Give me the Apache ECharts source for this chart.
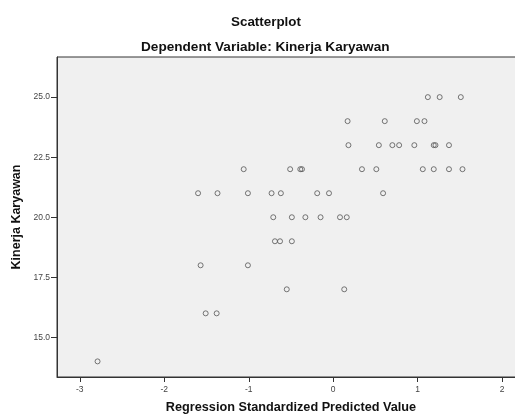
<!DOCTYPE html>
<html>
<head>
<meta charset="utf-8">
<script src="https://cdn.jsdelivr.net/npm/echarts@6/dist/echarts.min.js"></script>
<style>
html,body{margin:0;padding:0;background:#fff;}
#chart{width:515px;height:414px;}
</style>
</head>
<body>
<div id="chart"></div>
<script>
var predictedValues = [
  -2.79,
  -1.51, -1.38,
  -0.55, 0.13,
  -1.57, -1.01,
  -0.69, -0.63, -0.49,
  -0.71, -0.49, -0.33, -0.15, 0.08, 0.16,
  -1.60, -1.37, -1.01, -0.73, -0.62, -0.19, -0.05, 0.59,
  -1.06, -0.51, -0.39, -0.37, 0.34, 0.51, 1.06, 1.19, 1.37, 1.53,
  0.18, 0.54, 0.70, 0.78, 0.96, 1.19, 1.21, 1.37,
  0.17, 0.61, 0.99, 1.08,
  1.12, 1.26, 1.51
];
var kinerjaValues = [
  14,
  16, 16,
  17, 17,
  18, 18,
  19, 19, 19,
  20, 20, 20, 20, 20, 20,
  21, 21, 21, 21, 21, 21, 21, 21,
  22, 22, 22, 22, 22, 22, 22, 22, 22, 22,
  23, 23, 23, 23, 23, 23, 23, 23,
  24, 24, 24, 24,
  25, 25, 25
];
var xTicks = [-3, -2, -1, 0, 1, 2];
var yTicks = [15, 17.5, 20, 22.5, 25];
var chartTitle = 'Scatterplot';
var chartSubtitle = 'Dependent Variable: Kinerja Karyawan';
var xAxisTitle = 'Regression Standardized Predicted Value';
var yAxisTitle = 'Kinerja Karyawan';

var points = predictedValues.map(function (x, i) { return [x, kinerjaValues[i]]; });
var font = '"Liberation Sans", Arial, sans-serif';

var chart = echarts.init(document.getElementById('chart'));
chart.setOption({
  animation: false,
  backgroundColor: '#ffffff',
  graphic: [
    { type: 'text', left: 231, top: 15.5,
      style: { text: chartTitle, font: 'bold 13.4px ' + font, fill: '#111' } },
    { type: 'text', left: 141, top: 40,
      style: { text: chartSubtitle, font: 'bold 13.6px ' + font, fill: '#111' } }
  ],
  grid: {
    left: 57, right: -10, top: 57, bottom: 37,
    outerBoundsMode: 'none', containLabel: false,
    show: true, backgroundColor: '#f0f0f0', borderColor: '#333', borderWidth: 1
  },
  xAxis: {
    type: 'value', min: -3.27, max: 2.27,
    name: xAxisTitle, nameLocation: 'middle', nameGap: 24,
    nameTextStyle: { fontFamily: font, fontSize: 12.7, fontWeight: 'bold', color: '#111' },
    axisLine: { show: true, onZero: false, lineStyle: { color: '#333', width: 1 } },
    axisTick: { show: true, length: 5, customValues: xTicks, lineStyle: { color: '#333' } },
    axisLabel: { customValues: xTicks, fontFamily: font, fontSize: 8.5, color: '#444', margin: 8,
      formatter: function (v) { return String(v); } },
    splitLine: { show: false }
  },
  yAxis: {
    type: 'value', min: 13.35, max: 26.67,
    name: yAxisTitle, nameLocation: 'middle', nameGap: 33,
    nameTextStyle: { fontFamily: font, fontSize: 12.5, fontWeight: 'bold', color: '#111' },
    axisLine: { show: true, onZero: false, lineStyle: { color: '#333', width: 1 } },
    axisTick: { show: true, length: 6, customValues: yTicks, lineStyle: { color: '#333' } },
    axisLabel: { customValues: yTicks, fontFamily: font, fontSize: 8.5, color: '#444', margin: 7,
      formatter: function (v) { return v.toFixed(1); } },
    splitLine: { show: false }
  },
  series: [{
    type: 'scatter',
    data: points,
    symbol: 'circle',
    symbolSize: 5,
    itemStyle: { color: 'rgba(0,0,0,0)', borderColor: '#555', borderWidth: 1 }
  }]
});
</script>
</body>
</html>
